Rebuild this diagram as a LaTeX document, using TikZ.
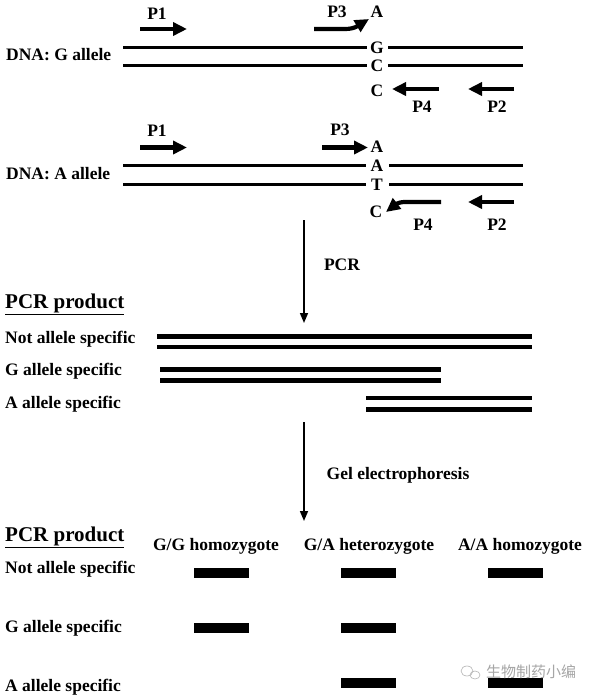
\documentclass[tikz,border=0pt]{standalone}
\usepackage{fontspec}
\setmainfont{Liberation Serif}
\newfontfamily\cjk{Noto Sans CJK SC}
\usetikzlibrary{arrows.meta}
\begin{document}
\begin{tikzpicture}[x=1pt,y=-1pt,
 lbl/.style={font=\fontsize{17.5}{18}\selectfont\bfseries, inner sep=0pt},
 hdr/.style={font=\fontsize{21}{22}\selectfont\bfseries, inner sep=0pt, anchor=west},
 strand/.style={line width=3.6pt},
 prod/.style={line width=4.2pt},
 primer/.style={line width=4.2pt, -{Triangle[length=14pt,width=13pt]}},
 flow/.style={line width=1.5pt, -{Triangle[length=10pt,width=8pt]}},
 band/.style={fill=black, minimum width=55pt, minimum height=10.5pt, inner sep=0pt},
 wm/.style={font=\cjk\fontsize{15}{15}\selectfont, text=gray!70, inner sep=0pt}]

\fill[white] (0,0) rectangle (591,697);
\useasboundingbox (0,0) rectangle (591,697);

% ---------- G allele ----------
\node[lbl, anchor=west] (dnaG) at (6,55) {DNA: G allele};
\node[lbl] (gA) at (377,12) {A};
\node[lbl] (gG) at (377,47.5) {G};
\node[lbl] (gC) at (377,66) {C};
\node[lbl] (gC2) at (377,91) {C};
\node[lbl] (gP1) at (157,14) {P1};
\node[lbl] (gP3) at (337,12) {P3};
\node[lbl] (gP4) at (422,107) {P4};
\node[lbl] (gP2) at (497,107) {P2};
\coordinate (gt1) at (123,47.5); \coordinate (gt2) at (367,47.5);
\coordinate (gt3) at (388,47.5); \coordinate (gt4) at (523,47.5);
\coordinate (gb1) at (123,65.5); \coordinate (gb2) at (367,65.5);
\coordinate (gb3) at (388,65.5); \coordinate (gb4) at (523,65.5);
\draw[strand] (gt1) -- (gt2); \draw[strand] (gt3) -- (gt4);
\draw[strand] (gb1) -- (gb2); \draw[strand] (gb3) -- (gb4);
\coordinate (gp1s) at (140,29); \coordinate (gp1e) at (187,29);
\draw[primer] (gp1s) -- (gp1e);
\coordinate (gp3s) at (314,29);
\draw[primer] (gp3s) -- (345,29) .. controls (355,29) and (359,25) .. (369,19);
\coordinate (gp4s) at (439,89); \coordinate (gp4e) at (392,89);
\draw[primer] (gp4s) -- (gp4e);
\coordinate (gp2s) at (514,89); \coordinate (gp2e) at (468,89);
\draw[primer] (gp2s) -- (gp2e);

% ---------- A allele ----------
\node[lbl, anchor=west] (dnaA) at (6,174) {DNA: A allele};
\node[lbl] (aA) at (377,147) {A};
\node[lbl] (aA2) at (377,166) {A};
\node[lbl] (aT) at (377,185) {T};
\node[lbl] (aC) at (376,212) {C};
\node[lbl] (aP1) at (157,131) {P1};
\node[lbl] (aP3) at (340,130) {P3};
\node[lbl] (aP4) at (423,225) {P4};
\node[lbl] (aP2) at (497,225) {P2};
\coordinate (at1) at (123,165.5); \coordinate (at2) at (366,165.5);
\coordinate (at3) at (389,165.5); \coordinate (at4) at (523,165.5);
\coordinate (ab1) at (123,184.5); \coordinate (ab2) at (366,184.5);
\coordinate (ab3) at (389,184.5); \coordinate (ab4) at (523,184.5);
\draw[strand] (at1) -- (at2); \draw[strand] (at3) -- (at4);
\draw[strand] (ab1) -- (ab2); \draw[strand] (ab3) -- (ab4);
\coordinate (ap1s) at (140,147.5); \coordinate (ap1e) at (187,147.5);
\draw[primer] (ap1s) -- (ap1e);
\coordinate (ap3s) at (322,147.5); \coordinate (ap3e) at (368,147.5);
\draw[primer] (ap3s) -- (ap3e);
\coordinate (ap4s) at (441,202);
\draw[primer] (ap4s) -- (405,202) .. controls (398,202) and (395,205) .. (386,212);
\coordinate (ap2s) at (514,202); \coordinate (ap2e) at (468,202);
\draw[primer] (ap2s) -- (ap2e);

% ---------- PCR ----------
\coordinate (pcrS) at (304,220); \coordinate (pcrE) at (304,323);
\draw[flow] (pcrS) -- (pcrE);
\node[lbl] (pcr) at (342,265) {PCR};

\node[hdr] (prod1) at (5,304) {\underline{PCR product}};
\node[lbl, anchor=west] (n1) at (5,339) {Not allele specific};
\node[lbl, anchor=west] (g1) at (5,371) {G allele specific};
\node[lbl, anchor=west] (a1) at (5,404) {A allele specific};
\coordinate (nl1) at (157,336.5); \coordinate (nr1) at (532,336.5);
\coordinate (nl2) at (157,347); \coordinate (nr2) at (532,347);
\coordinate (gl1) at (160,369.5); \coordinate (gr1) at (441,369.5);
\coordinate (gl2) at (160,380.5); \coordinate (gr2) at (441,380.5);
\coordinate (al1) at (366,398); \coordinate (ar1) at (532,398);
\coordinate (al2) at (366,409.5); \coordinate (ar2) at (532,409.5);
\draw[prod] (nl1) -- (nr1); \draw[prod] (nl2) -- (nr2);
\draw[prod] (gl1) -- (gr1); \draw[prod] (gl2) -- (gr2);
\draw[prod] (al1) -- (ar1); \draw[prod] (al2) -- (ar2);

% ---------- Gel ----------
\coordinate (gelS) at (304,422); \coordinate (gelE) at (304,521);
\draw[flow] (gelS) -- (gelE);
\node[lbl] (gel) at (398,475) {Gel electrophoresis};

\node[hdr] (prod2) at (5,537) {\underline{PCR product}};
\node[lbl] (hGG) at (216,546) {G/G homozygote};
\node[lbl] (hGA) at (369,546) {G/A heterozygote};
\node[lbl] (hAA) at (520,546) {A/A homozygote};
\node[lbl, anchor=west] (n2) at (5,569) {Not allele specific};
\node[lbl, anchor=west] (g2) at (5,628) {G allele specific};
\node[lbl, anchor=west] (a2) at (5,687) {A allele specific};

\node[band] (b11) at (221.5,573) {};
\node[band] (b12) at (368.5,573) {};
\node[band] (b13) at (515.5,573) {};
\node[band] (b21) at (221.5,628) {};
\node[band] (b22) at (368.5,628) {};
\node[band] (b32) at (368.5,683) {};
\node[band] (b33) at (515.5,683) {};

% ---------- watermark ----------
\draw[gray!60, line width=0.6pt] (467,671) ellipse (6pt and 5pt);
\draw[gray!60, line width=0.6pt] (475,675) ellipse (5pt and 4pt);
\node[wm, anchor=west] (wmt) at (486,672) {生物制药小编};
\end{tikzpicture}
\end{document}
